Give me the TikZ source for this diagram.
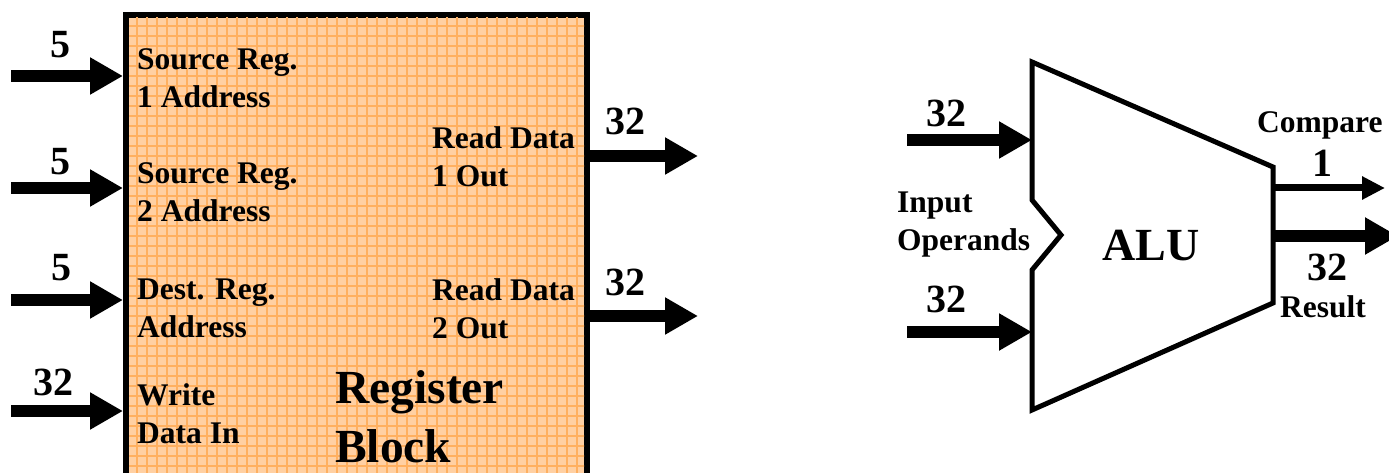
\documentclass[tikz,border=0pt]{standalone}
\usepackage{fontspec}
\setmainfont{Liberation Serif}
\usetikzlibrary{arrows.meta}
\definecolor{peach}{RGB}{255,208,163}
\definecolor{gridor}{RGB}{255,176,96}
\begin{document}
\begin{tikzpicture}[x=1pt,y=-1pt,
  fatarrow/.style={line width=12pt,-{Triangle[length=33pt,width=35pt]}},
  thinarrow/.style={line width=7pt,-{Triangle[length=23pt,width=22pt]}},
  lbl/.style={font=\fontsize{31.5}{38}\selectfont\bfseries,align=left,anchor=base west,inner sep=0pt},
  num/.style={font=\fontsize{40}{40}\selectfont\bfseries,anchor=base,inner sep=0pt},
  big/.style={font=\fontsize{47.5}{59}\selectfont\bfseries,align=left,anchor=base west,inner sep=0pt},
  regbox/.style={draw,line width=6pt,fill=peach,inner sep=0pt},
  gridline/.style={gridor,line width=1.1pt},
]
\useasboundingbox (0,0) rectangle (1389,473);

% Register block
\node[regbox,minimum width=461pt,minimum height=480pt,anchor=north west] (reg) at (123,12) {};
\begin{scope}
  \clip ([shift={(6,6)}]reg.north west) rectangle ([shift={(-6,-6)}]reg.south east);
  \foreach \gx in {127,137,...,587} \draw[gridline] (\gx,0) -- (\gx,500);
  \foreach \gy in {16,26,...,496} \draw[gridline] (100,\gy) -- (600,\gy);
\end{scope}

\node[lbl] (l1) at (137,108) {Source Reg.\\1 Address};
\node[lbl] (l2) at (137,222) {Source Reg.\\2 Address};
\node[lbl] (l3) at (137,337) {Dest. Reg.\\Address};
\node[lbl] (l4) at (137,443) {Write\\Data In};
\node[lbl] (r1) at (432,187) {Read Data\\1 Out};
\node[lbl] (r2) at (432,338) {Read Data\\2 Out};
\node[big] (rb) at (335,462) {Register\\Block};

% input arrows
\coordinate (s1) at (11,76);
\coordinate (s2) at (11,188);
\coordinate (s3) at (11,300);
\coordinate (s4) at (11,411);
\draw[fatarrow] (s1) -- (s1 -| reg.west);
\draw[fatarrow] (s2) -- (s2 -| reg.west);
\draw[fatarrow] (s3) -- (s3 -| reg.west);
\draw[fatarrow] (s4) -- (s4 -| reg.west);
\node[num] (n1) at (60,58) {5};
\node[num] (n2) at (60,175) {5};
\node[num] (n3) at (61,280) {5};
\node[num] (n4) at (53,395) {32};

% output arrows
\coordinate (o1) at (698,156);
\coordinate (o2) at (698,316);
\draw[fatarrow] (o1 -| reg.east) -- (o1);
\draw[fatarrow] (o2 -| reg.east) -- (o2);
\node[num] (n5) at (625,135) {32};
\node[num] (n6) at (625,295) {32};

% ALU
\coordinate (a1) at (1032,62);
\coordinate (a2) at (1032,200);
\coordinate (a3) at (1061,235);
\coordinate (a4) at (1032,270);
\coordinate (a5) at (1032,410);
\coordinate (a6) at (1273,303);
\coordinate (a7) at (1273,167);
\draw[line width=5pt,line join=miter] (a1) -- (a2) -- (a3) -- (a4) -- (a5) -- (a6) -- (a7) -- cycle;
\node[font=\fontsize{46}{46}\selectfont\bfseries,anchor=base west,inner sep=0pt] (alu) at (1102,260) {ALU};

\coordinate (ai1) at (907,140);
\coordinate (ai2) at (907,332);
\draw[fatarrow] (ai1) -- (ai1 -| a1);
\draw[fatarrow] (ai2) -- (ai2 -| a5);
\node[num] (n7) at (946,127) {32};
\node[num] (n8) at (946,312) {32};
\node[lbl] (inop) at (897,250) {Input\\Operands};

\coordinate (cmp) at (1385,188);
\coordinate (res) at (1398,236);
\draw[thinarrow] (cmp -| a7) -- (cmp);
\draw[fatarrow] (res -| a7) -- (res);
\node[lbl] (cl) at (1257,133) {Compare};
\node[num] (n9) at (1322,177) {1};
\node[num] (n10) at (1327,280) {32};
\node[lbl] (rl) at (1280,317) {Result};
\end{tikzpicture}
\end{document}
